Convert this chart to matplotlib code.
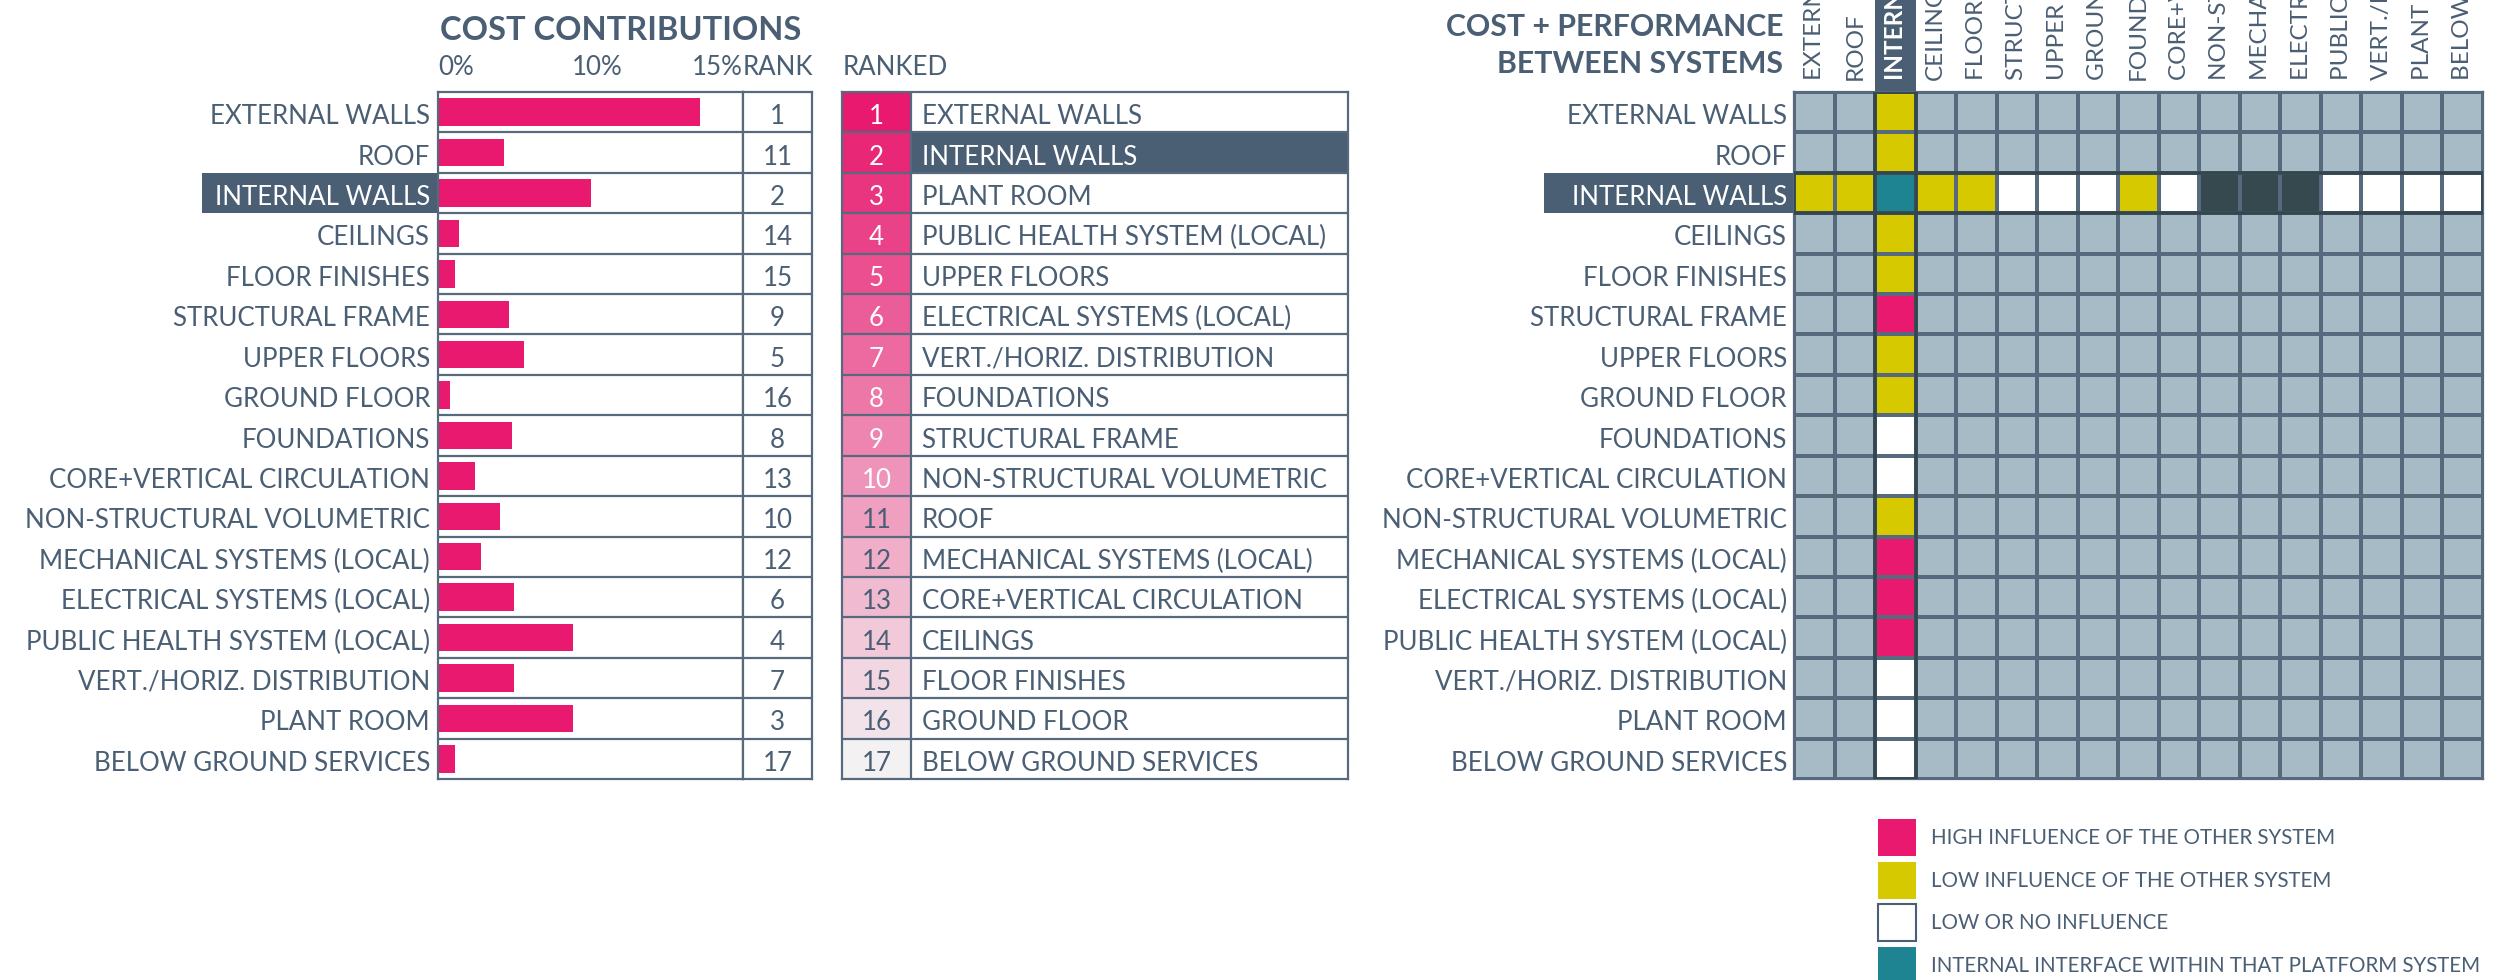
import matplotlib
matplotlib.use("Agg")
import matplotlib.pyplot as plt
from matplotlib.patches import Rectangle
from matplotlib.colors import ListedColormap, to_rgb
import numpy as np

plt.rcParams['font.family'] = ['Lato', 'DejaVu Sans']

# ---------------- data ----------------
systems = ["EXTERNAL WALLS", "ROOF", "INTERNAL WALLS", "CEILINGS", "FLOOR FINISHES",
           "STRUCTURAL FRAME", "UPPER FLOORS", "GROUND FLOOR", "FOUNDATIONS",
           "CORE+VERTICAL CIRCULATION", "NON-STRUCTURAL VOLUMETRIC",
           "MECHANICAL SYSTEMS (LOCAL)", "ELECTRICAL SYSTEMS (LOCAL)",
           "PUBLIC HEALTH SYSTEM (LOCAL)", "VERT./HORIZ. DISTRIBUTION",
           "PLANT ROOM", "BELOW GROUND SERVICES"]
cost_share = [19.6, 4.9, 11.4, 1.6, 1.25, 5.3, 6.4, 0.9, 5.5, 2.8, 4.6, 3.2, 5.7,
              10.1, 5.7, 10.1, 1.25]
cost_rank = [1, 11, 2, 14, 15, 9, 5, 16, 8, 13, 10, 12, 6, 4, 7, 3, 17]
pct_ticks = [0, 10]
pct_tick_labels = ["0%", "10%"]
last_tick_label = "15%"
focus_system = "INTERNAL WALLS"

# influence codes: 0 not assessed, 1 high, 2 low, 3 low/none, 4 internal, 5 excluded
focus_row = [2, 2, 4, 2, 2, 3, 3, 3, 2, 3, 5, 5, 5, 3, 3, 3, 3]
focus_col = [2, 2, 4, 2, 2, 1, 2, 2, 3, 3, 2, 1, 1, 1, 3, 3, 3]
legend_labels = ["HIGH INFLUENCE OF THE OTHER SYSTEM", "LOW INFLUENCE OF THE OTHER SYSTEM",
                 "LOW OR NO INFLUENCE", "INTERNAL INTERFACE WITHIN THAT PLATFORM SYSTEM"]
legend_codes = [1, 2, 3, 4]

# ---------------- style ----------------
W, H = 2511, 980
TXT = "#4a5e74"
SLATE = "#4a5e74"
LINE = "#56697d"
PINK = "#e8196f"
PALE = "#f3f1f2"
code_colors = ["#a6bbc5", PINK, "#d6c900", "#ffffff", "#1f8491", "#36494f"]
FS = 18.6
TOP, BOT = 92, 779
NR = len(systems)
ROW = (BOT - TOP) / NR
BASE = 12.0 / ROW   # baseline offset below row centre (row units)
LW = 1.6

fig = plt.figure(figsize=(W / 100, H / 100), dpi=100)


def px_axes(x0, y0, x1, y1):
    ax = fig.add_axes([x0 / W, 1 - y1 / H, (x1 - x0) / W, (y1 - y0) / H])
    return ax


def ftext(x, y, s, **kw):
    fig.text(x / W, 1 - y / H, s, **kw)


fi = systems.index(focus_system)
rows = np.arange(NR)

# ---------------- panel 1: cost contributions ----------------
BX0, BX1 = 438, 743
PXPCT = 13.38
xmax = (BX1 - BX0) / PXPCT
axb = px_axes(BX0, TOP, BX1, BOT)
axb.barh(rows + 0.5, cost_share, height=0.68, color=PINK, zorder=2)
axb.set_xlim(0, xmax)
axb.set_ylim(NR, 0)
axb.hlines(np.arange(1, NR), 0, xmax, color=LINE, lw=LW, zorder=3)
axb.set_xticks([])
axb.set_yticks([])
for sp in axb.spines.values():
    sp.set_color(LINE)
    sp.set_linewidth(LW)

# highlight label box
hl_w = (BX0 - 202) / PXPCT
axb.add_patch(Rectangle((-hl_w, fi), hl_w, 1, fc=SLATE, ec="none", clip_on=False, zorder=1))
for i, name in enumerate(systems):
    axb.annotate(name, xy=(0, i + 0.5 + BASE), xytext=(-8 * 0.72, 0), textcoords="offset points",
                 ha="right", va="baseline", fontsize=FS,
                 color="white" if i == fi else TXT, annotation_clip=False)

# header ticks
for t, lab in zip(pct_ticks, pct_tick_labels):
    axb.annotate(lab, xy=(t, 0), xytext=(0, (92 - 75) * 0.72), textcoords="offset points",
                 ha="left", va="baseline", fontsize=FS, color=TXT, annotation_clip=False)
axb.annotate(last_tick_label, xy=(1, 1), xycoords="axes fraction", xytext=(0, (92 - 75) * 0.72),
             textcoords="offset points", ha="right", va="baseline", fontsize=FS, color=TXT)
ftext(440, 40, "COST CONTRIBUTIONS", fontsize=23.5, fontweight="bold", color=TXT,
      ha="left", va="baseline")

# rank column
axk = px_axes(BX1, TOP, 812, BOT)
axk.set_xlim(0, 1)
axk.set_ylim(NR, 0)
axk.hlines(np.arange(1, NR), 0, 1, color=LINE, lw=LW)
axk.set_xticks([])
axk.set_yticks([])
for sp in axk.spines.values():
    sp.set_color(LINE)
    sp.set_linewidth(LW)
for i, r in enumerate(cost_rank):
    axk.text(0.5, i + 0.5 + BASE, str(r), ha="center", va="baseline", fontsize=FS, color=TXT)
axk.text(0.0, -(92 - 75) / ROW, "RANK", ha="left", va="baseline", fontsize=FS, color=TXT)

# ---------------- panel 2: ranked list ----------------
RX0, RX1, RNUM = 842, 1348, 911
axr = px_axes(RX0, TOP, RX1, BOT)
axr.set_xlim(0, 1)
axr.set_ylim(NR, 0)
numw = (RNUM - RX0) / (RX1 - RX0)
order = sorted(range(NR), key=lambda k: cost_rank[k])
c0, c1 = np.array(to_rgb(PINK)), np.array(to_rgb(PALE))
for pos, k in enumerate(order):
    f = pos / (NR - 1)
    col = c0 * (1 - f) + c1 * f
    axr.add_patch(Rectangle((0, pos), numw, 1, fc=col, ec="none"))
    is_focus = systems[k] == focus_system
    if is_focus:
        axr.add_patch(Rectangle((numw, pos), 1 - numw, 1, fc=SLATE, ec="none"))
    axr.text(numw / 2, pos + 0.5 + BASE, str(cost_rank[k]), ha="center", va="baseline",
             fontsize=FS, color="white" if cost_rank[k] <= 10 else TXT)
    axr.text(numw + (921.5 - RNUM) / (RX1 - RX0), pos + 0.5 + BASE, systems[k],
             ha="left", va="baseline", fontsize=FS, color="white" if is_focus else TXT)
axr.hlines(np.arange(1, NR), 0, 1, color=LINE, lw=LW)
axr.vlines(numw, 0, NR, color=LINE, lw=LW)
axr.set_xticks([])
axr.set_yticks([])
for sp in axr.spines.values():
    sp.set_color(LINE)
    sp.set_linewidth(LW)
axr.text(0.0015, -(92 - 75) / ROW, "RANKED", ha="left", va="baseline", fontsize=FS, color=TXT)

# ---------------- panel 3: matrix ----------------
MX0, MX1 = 1794, 2483
axm = px_axes(MX0, TOP, MX1, BOT)
mat = np.zeros((NR, NR), dtype=int)
mat[fi, :] = focus_row
mat[:, fi] = focus_col
cmap = ListedColormap(code_colors)
axm.pcolormesh(np.arange(NR + 1), np.arange(NR + 1), mat, cmap=cmap, vmin=-0.5, vmax=5.5,
               edgecolors=LINE, linewidth=LW)
axm.set_xlim(0, NR)
axm.set_ylim(NR, 0)
axm.set_xticks([])
axm.set_yticks([])
for sp in axm.spines.values():
    sp.set_color(LINE)
    sp.set_linewidth(LW)
DARK = "#34474f"
axm.add_patch(Rectangle((0, fi), NR, 1, fill=False, ec=DARK, lw=2.6, zorder=5))
axm.add_patch(Rectangle((fi, 0), 1, NR, fill=False, ec=DARK, lw=2.6, zorder=5))
head_h = TOP / ROW
axm.add_patch(Rectangle((fi, -head_h), 1, head_h, fc=SLATE, ec="none", clip_on=False))
colw = (MX1 - MX0) / NR
for j, name in enumerate(systems):
    axm.text(j + 0.5, -(TOP - 80) / ROW, name, rotation=90, ha="center", va="bottom",
             fontsize=17.5, color="white" if j == fi else TXT,
             fontweight="bold" if j == fi else "normal", clip_on=False)
# row labels
hlw = (MX0 - 1544) / colw
axm.add_patch(Rectangle((-hlw, fi), hlw, 1, fc=SLATE, ec="none", clip_on=False))
for i, name in enumerate(systems):
    axm.text(-7 / colw, i + 0.5 + BASE, name, ha="right", va="baseline", fontsize=FS,
             color="white" if i == fi else TXT)
ftext(1783, 36, "COST + PERFORMANCE", fontsize=21.8, fontweight="bold", color=TXT,
      ha="right", va="baseline")
ftext(1783, 73, "BETWEEN SYSTEMS", fontsize=21.8, fontweight="bold", color=TXT,
      ha="right", va="baseline")

# legend
ly0 = (819 - TOP) / ROW
lstep = 42.5 / ROW
lh = 37 / ROW
lx0 = (1878 - MX0) / colw
lw_ = 38 / colw
for k, (lab, code) in enumerate(zip(legend_labels, legend_codes)):
    y = ly0 + k * lstep
    axm.add_patch(Rectangle((lx0, y), lw_, lh, fc=code_colors[code],
                            ec=SLATE if code == 3 else "none", lw=1.5, clip_on=False))
    axm.text((1931 - MX0) / colw, y + lh / 2 + 6.5 / ROW, lab, ha="left", va="baseline",
             fontsize=14.8, color=TXT)

fig.savefig("out.png", dpi=100)
